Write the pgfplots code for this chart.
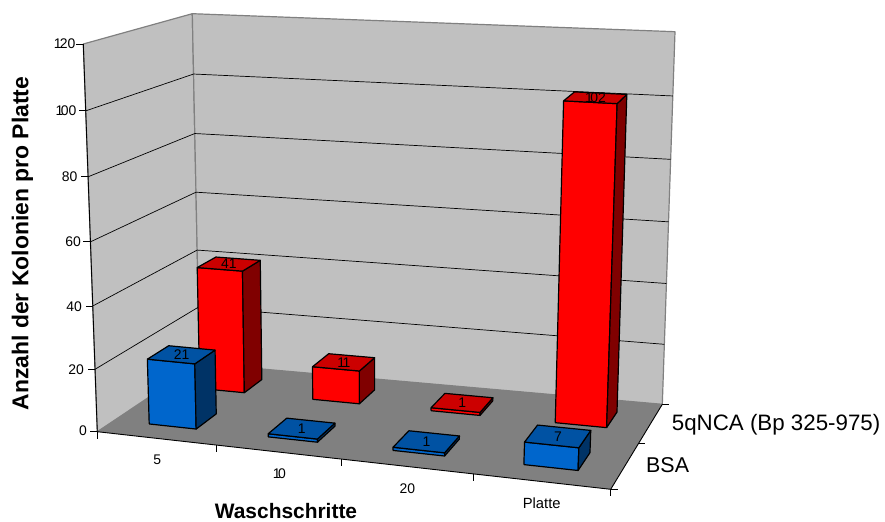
\documentclass[border=0pt]{standalone}
\usepackage{fontspec}
\setmainfont{Liberation Sans}
\usepackage{pgfplots}
\usepackage{pgfplotstable}
\pgfplotsset{compat=1.18}

\newcommand{\tight}{\kern-2.6pt }

\definecolor{wallgray}{HTML}{C0C0C0}
\definecolor{floorgray}{HTML}{808080}
\definecolor{redfront}{HTML}{FF0000}
\definecolor{redtop}{HTML}{CC0000}
\definecolor{redside}{HTML}{800000}
\definecolor{bluefront}{HTML}{0066CC}
\definecolor{bluetop}{HTML}{0052A3}
\definecolor{blueside}{HTML}{003366}

% box corners of the 3D frame in image pixels: u = category 0..4, v = series 0..2, w = value 0..120
\tikzset{declare function={
  wu(\U)=(\U/4)/(\U/4+1.1*(1-\U/4));
  wv(\V)=(\V/2)/(\V/2+0.87*(1-\V/2));
  ww(\W)=(\W/120)/(\W/120+1.042*(1-\W/120));
  fx(\a,\b,\W)=(1-ww(\W))*\a+ww(\W)*\b;
  px(\U,\V,\W)=(1-wu(\U))*((1-wv(\V))*fx(97.3,83.3,\W)+wv(\V)*fx(199.5,192.3,\W))
              +wu(\U)*((1-wv(\V))*fx(610.7,628.7,\W)+wv(\V)*fx(662.3,675,\W));
  py(\U,\V,\W)=(1-wu(\U))*((1-wv(\V))*fx(431.7,44,\W)+wv(\V)*fx(363.5,13.7,\W))
              +wu(\U)*((1-wv(\V))*fx(489.3,76.3,\W)+wv(\V)*fx(404.3,31.7,\W));
}}

% unit faces of a bar
\pgfplotstableread{
a b c
0 0 0
1 0 0
1 0 1
0 0 1
0 0 0
}\frontface
\pgfplotstableread{
a b c
0 0 1
1 0 1
1 1 1
0 1 1
0 0 1
}\topface
\pgfplotstableread{
a b c
1 0 0
1 1 0
1 1 1
1 0 1
1 0 0
}\sideface
\pgfplotstableread{
a b c
0.5 0.5 1
}\topcentre

\newcommand{\barface}[5]{%
  \addplot[fill=#5,draw=black,line width=1.2pt,line join=round] table[
    x expr={px(#1+0.3+0.4*\thisrow{a},#2+0.3+0.4*\thisrow{b},#3*\thisrow{c})},
    y expr={py(#1+0.3+0.4*\thisrow{a},#2+0.3+0.4*\thisrow{b},#3*\thisrow{c})}] {#4};}
% category, series, value, colours, value label as set
\newcommand{\threedbar}[7]{%
  \barface{#1}{#2}{#3}{\frontface}{#4}
  \barface{#1}{#2}{#3}{\sideface}{#6}
  \barface{#1}{#2}{#3}{\topface}{#5}
  \addplot[draw=none,mark=none,nodes near coords={#7},
    every node near coord/.style={anchor=center,inner sep=0pt,font=\fontsize{14}{14}\selectfont}] table[
    x expr={px(#1+0.3+0.4*\thisrow{a},#2+0.3+0.4*\thisrow{b},#3*\thisrow{c})},
    y expr={py(#1+0.3+0.4*\thisrow{a},#2+0.3+0.4*\thisrow{b},#3*\thisrow{c})}] {\topcentre};}
\newcommand{\frameface}[3]{%
  \addplot[#1,line join=round] table[
    x expr={px(\thisrow{u},\thisrow{v},\thisrow{w})},
    y expr={py(\thisrow{u},\thisrow{v},\thisrow{w})},row sep=\\] {u v w\\ #3};}
\newcommand{\tick}[5]{%
  \addplot[black,line width=0.9pt] table[
    x expr={px(#1,#2,#3)+#4*\thisrow{t}},
    y expr={py(#1,#2,#3)+#5*\thisrow{t}},row sep=\\] {t\\ 0\\ 1\\};}

\begin{document}
\begin{tikzpicture}
\begin{axis}[
    at={(0,0)},anchor=south west,
    scale only axis,width=885bp,height=522bp,
    xmin=0,xmax=885,ymin=0,ymax=522,
    y dir=reverse,
    hide axis,clip=false,
]
% walls and floor
\frameface{fill=wallgray,draw=floorgray,line width=1.2pt}{}{0 0 0\\ 0 2 0\\ 0 2 120\\ 0 0 120\\ 0 0 0\\}
\frameface{fill=wallgray,draw=floorgray,line width=1.2pt}{}{0 2 0\\ 4 2 0\\ 4 2 120\\ 0 2 120\\ 0 2 0\\}
\frameface{fill=floorgray,draw=none}{}{0 0 0\\ 4 0 0\\ 4 2 0\\ 0 2 0\\ 0 0 0\\}
% grid
\pgfplotsinvokeforeach{20,40,60,80,100}{
  \frameface{black,line width=0.7pt}{}{0 0 #1\\ 0 2 #1\\ 4 2 #1\\}
}
% axis lines
\frameface{black,line width=0.9pt}{}{0 0 120\\ 0 0 0\\ 4 0 0\\ 4 2 0\\}
\pgfplotsinvokeforeach{0,20,40,60,80,100,120}{\tick{0}{0}{#1}{-7}{0}}
\pgfplotsinvokeforeach{0,1,2,3,4}{\tick{#1}{0}{0}{0}{7}}
\pgfplotsinvokeforeach{0,1,2}{\tick{4}{#1}{0}{7}{0}}
% back row first, the front row covers it
\threedbar{0}{1}{41}{redfront}{redtop}{redside}{41}
\threedbar{1}{1}{11}{redfront}{redtop}{redside}{1\tight 1}
\threedbar{2}{1}{1}{redfront}{redtop}{redside}{1}
\threedbar{3}{1}{102}{redfront}{redtop}{redside}{1\tight 02}
\threedbar{0}{0}{21}{bluefront}{bluetop}{blueside}{21}
\threedbar{1}{0}{1}{bluefront}{bluetop}{blueside}{1}
\threedbar{2}{0}{1}{bluefront}{bluetop}{blueside}{1}
\threedbar{3}{0}{7}{bluefront}{bluetop}{blueside}{7}
% tick labels
\begin{scope}[every node/.style={anchor=east,inner sep=0pt,font=\fontsize{14}{14}\selectfont}]
\node at (axis cs:75.5,44) {1\kern-1.8pt 20};
\node at (axis cs:76.5,111) {1\tight 00};
\node at (axis cs:77.5,176.5) {80};
\node at (axis cs:81,242) {60};
\node at (axis cs:82,307) {40};
\node at (axis cs:84,370) {20};
\node at (axis cs:87,431) {0};
\end{scope}
\begin{scope}[every node/.style={anchor=center,inner sep=0pt,font=\fontsize{14}{14}\selectfont}]
\node at (axis cs:157.3,460) {5};
\node at (axis cs:279.3,474) {1\tight 0};
\node at (axis cs:407.3,488.3) {20};
\node[font=\fontsize{14.8}{15}\selectfont] at (axis cs:541.7,503.3) {Platte};
\end{scope}
\node[anchor=west,inner sep=0pt,font=\fontsize{21.5}{22}\selectfont] at (axis cs:646,465) {BSA};
\node[anchor=west,inner sep=0pt,font=\fontsize{22.4}{23}\selectfont] at (axis cs:671.7,424.5) {5qNCA (Bp 325-975)};
\node[inner sep=0pt,font=\fontsize{21}{22}\selectfont\bfseries] at (axis cs:286,511) {Waschschritte};
\node[inner sep=0pt,rotate=90,font=\fontsize{23}{24}\selectfont\bfseries] at (axis cs:22.5,243.5) {Anzahl der Kolonien pro Platte};
\end{axis}
\useasboundingbox (0,0) rectangle (885bp,522bp);
\end{tikzpicture}
\end{document}
